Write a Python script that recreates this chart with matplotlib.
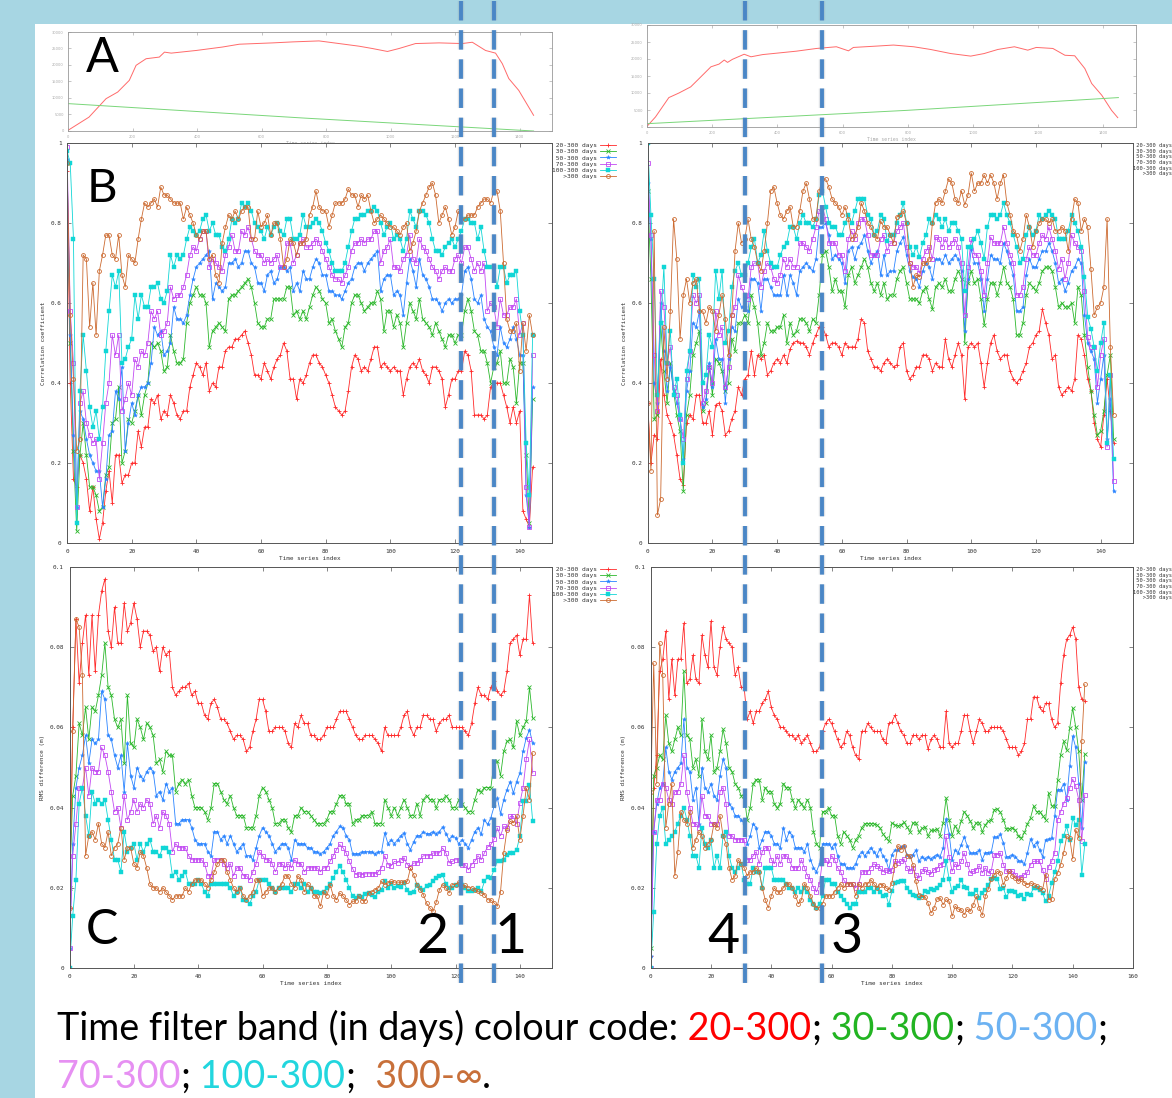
import numpy as np
import matplotlib
matplotlib.use("Agg")
import matplotlib.pyplot as plt
from matplotlib.lines import Line2D
from matplotlib.patches import Rectangle

# ---------------- data ----------------
series_labels = ["20-300 days", "30-300 days", "50-300 days", "70-300 days", "100-300 days", ">300 days"]

# Panel A (top, thin lines)
aL_x = [0,65,118,154,190,211,242,283,299,320,397,479,531,582,634,696,778,840,902,943,
        990,1026,1077,1150,1222,1253,1294,1325,1346,1366,1397,1443]
aL_red = [200,4200,9800,11800,15350,19900,21900,22400,23900,23600,24400,25450,26300,26500,26700,27000,27300,
          26500,25700,25000,24100,25000,26500,26700,26500,26900,24400,23600,20400,15900,12300,4750]
aL_gx = [0, 735, 1443]
aL_green = [8300, 3900, 0]
aR_x = [0,26,67,98,134,160,196,221,237,247,262,298,319,355,417,458,520,581,618,633,
        705,756,818,870,932,993,1034,1076,1127,1168,1194,1245,1282,1312,1343,1364,1395,1425,1444]
aR_red = [200,2950,8650,10000,11800,14260,17700,18500,19700,19000,19900,21400,20650,21300,21900,22300,23100,
          23600,22400,23400,23800,24100,23600,22800,21600,20850,21600,22800,23600,22600,23400,23100,21100,
          20950,17200,12800,9340,4900,2750]
aR_gx = [0, 798, 1446]
aR_green = [980, 4900, 8650]

# Panel B left: correlation coefficient
bL_20 = [.93,.40,.16,.14,.22,.20,.16,.08,.14,.06, .01,.05,.13,.18,.10,.22,.22,.15,.17,.17,
         .20,.20,.28,.24,.29,.29,.36,.35,.37,.31, .33,.32,.37,.35,.32,.31,.33,.33,.39,.42,
         .45,.44,.42,.45,.38,.40,.39,.44,.44,.48, .49,.49,.51,.51,.52,.53,.50,.47,.42,.42,
         .41,.45,.43,.41,.44,.46,.47,.50,.48,.41, .41,.36,.41,.40,.42,.45,.47,.47,.45,.44,
         .42,.40,.37,.34,.33,.32,.33,.38,.44,.47, .46,.43,.44,.43,.46,.49,.49,.44,.45,.44,
         .43,.44,.43,.43,.37,.41,.44,.45,.44,.46, .43,.42,.40,.44,.44,.43,.41,.34,.37,.41,
         .41,.43,.43,.48,.47,.43,.32,.32,.32,.31, .32,.39,.40,.40,.40,.37,.34,.30,.34,.30,
         .33,.08,.06,.04,.19]
bL_30 = [.95,.50,.23,.03,.22,.30,.22,.14,.14,.12, .08,.09,.17,.19,.30,.31,.39,.20,.23,.31,
         .30,.33,.37,.32,.37,.40,.50,.49,.50,.48, .43,.44,.52,.48,.45,.45,.46,.55,.60,.62,
         .64,.62,.62,.60,.49,.53,.54,.55,.54,.53, .61,.62,.62,.63,.64,.65,.66,.64,.60,.55,
         .54,.54,.56,.56,.61,.61,.61,.61,.64,.64, .57,.58,.56,.58,.56,.59,.62,.64,.63,.61,
         .60,.55,.56,.53,.51,.49,.54,.55,.60,.62, .62,.60,.58,.59,.60,.60,.63,.61,.53,.58,
         .58,.54,.57,.55,.49,.55,.60,.58,.56,.61, .56,.55,.54,.52,.55,.53,.51,.49,.52,.52,
         .50,.52,.52,.58,.61,.58,.53,.52,.48,.48, .45,.40,.44,.45,.48,.40,.40,.46,.44,.35,
         .45,.45,.22,.05,.36]
bL_50 = [.96,.52,.27,.09,.33,.31,.26,.22,.20,.18, .18,.09,.16,.27,.28,.38,.36,.44,.23,.30,
         .35,.32,.37,.39,.39,.40,.45,.54,.52,.53, .47,.48,.50,.59,.56,.56,.55,.57,.62,.66,
         .69,.70,.71,.72,.73,.61,.65,.64,.63,.64, .70,.70,.71,.69,.70,.73,.73,.70,.69,.65,
         .65,.63,.67,.68,.65,.66,.69,.69,.68,.69, .63,.65,.63,.68,.66,.66,.69,.71,.70,.67,
         .67,.63,.63,.62,.62,.61,.63,.65,.66,.69, .70,.70,.68,.70,.71,.72,.73,.63,.66,.67,
         .67,.62,.63,.62,.57,.65,.71,.68,.64,.71, .67,.66,.64,.61,.61,.60,.58,.60,.61,.60,
         .61,.61,.62,.68,.69,.66,.61,.60,.62,.56, .54,.53,.49,.47,.54,.50,.49,.51,.54,.51,
         .47,.47,.12,.04,.39]
bL_70 = [.99,.58,.45,.09,.35,.38,.30,.27,.25,.26, .16,.25,.35,.40,.52,.47,.52,.33,.36,.40,
         .37,.46,.44,.48,.47,.50,.58,.56,.58,.52, .53,.55,.64,.61,.62,.62,.64,.67,.72,.74,
         .73,.76,.78,.78,.69,.71,.70,.69,.68,.72, .74,.77,.73,.73,.78,.77,.79,.76,.73,.72,
         .72,.70,.71,.70,.71,.72,.69,.69,.75,.75, .70,.72,.75,.76,.74,.74,.75,.76,.75,.73,
         .71,.69,.67,.66,.66,.65,.67,.69,.73,.75, .75,.76,.75,.76,.76,.78,.78,.70,.73,.74,
         .76,.69,.69,.68,.71,.72,.77,.71,.70,.76, .74,.73,.71,.69,.68,.66,.68,.69,.68,.68,
         .71,.72,.70,.74,.74,.71,.68,.70,.68,.70, .58,.60,.59,.54,.61,.57,.57,.59,.59,.61,
         .52,.55,.14,.04,.47]
bL_100 = [.98,.95,.76,.05,.38,.52,.43,.34,.29,.33, .26,.34,.48,.58,.67,.64,.68,.45,.46,.49,
          .51,.62,.56,.62,.59,.59,.64,.64,.65,.61, .60,.63,.72,.69,.72,.71,.72,.76,.79,.78,
          .77,.78,.81,.82,.78,.80,.77,.77,.74,.73, .76,.81,.80,.81,.85,.84,.85,.83,.80,.79,
          .78,.76,.79,.77,.79,.80,.78,.77,.81,.81, .76,.76,.77,.82,.79,.79,.80,.81,.80,.78,
          .75,.73,.70,.68,.68,.68,.70,.74,.78,.81, .81,.82,.82,.83,.83,.84,.83,.80,.77,.79,
          .80,.76,.77,.76,.73,.76,.83,.81,.79,.83, .83,.82,.80,.76,.73,.73,.72,.74,.75,.76,
          .74,.76,.78,.81,.81,.80,.80,.76,.79,.73, .69,.69,.69,.64,.69,.69,.65,.67,.67,.68,
          .58,.52,.25,.12,.52]
bL_300 = [.95,.57,.41,.23,.26,.72,.71,.54,.65,.52, .68,.72,.77,.77,.72,.71,.77,.67,.64,.72,
          .71,.70,.76,.81,.85,.84,.85,.86,.84,.89, .87,.87,.86,.85,.85,.85,.81,.84,.82,.80,
          .77,.76,.78,.78,.71,.72,.67,.65,.75,.79, .82,.81,.83,.81,.83,.84,.84,.76,.76,.83,
          .79,.80,.82,.77,.80,.80,.76,.69,.71,.76, .75,.72,.75,.75,.76,.82,.84,.88,.84,.83,
          .83,.79,.82,.85,.85,.85,.86,.885,.87,.87, .84,.87,.86,.87,.83,.80,.81,.82,.81,.80,
          .79,.79,.78,.77,.79,.80,.73,.75,.78,.83, .85,.87,.89,.90,.87,.80,.82,.84,.81,.77,
          .79,.83,.81,.81,.82,.82,.82,.84,.85,.86, .86,.85,.88,.88,.83,.70,.56,.53,.53,.55,
          .43,.55,.48,.57,.52]

# Panel B right
bR_20 = [.35,.20,.27,.26,.46,.37,.32,.30,.27,.22, .16,.145,.30,.32,.31,.37,.37,.30,.30,.33,
         .27,.345,.35,.33,.27,.28,.31,.33,.39,.37, .41,.42,.48,.42,.47,.46,.47,.42,.43,.45,
         .46,.45,.47,.45,.485,.50,.505,.50,.50,.49, .47,.50,.52,.54,.54,.52,.49,.50,.50,.49,
         .47,.50,.49,.49,.49,.51,.56,.55,.48,.46, .44,.44,.43,.45,.46,.45,.44,.445,.49,.50,
         .43,.41,.42,.44,.44,.47,.47,.46,.43,.45, .44,.44,.51,.46,.44,.47,.50,.47,.36,.49,
         .50,.49,.50,.45,.39,.45,.50,.52,.48,.46, .47,.47,.43,.41,.40,.41,.43,.45,.49,.50,
         .52,.53,.585,.55,.52,.46,.47,.39,.37,.38, .39,.38,.41,.52,.51,.47,.41,.38,.30,.26,
         .24,.32,.41,.33,.25]
bR_30 = [.88,.66,.31,.32,.55,.43,.35,.45,.38,.32, .28,.13,.32,.37,.47,.50,.53,.33,.35,.44,
         .37,.46,.45,.43,.38,.40,.51,.48,.55,.55, .57,.55,.62,.59,.55,.47,.50,.55,.53,.53,
         .54,.54,.57,.50,.55,.52,.53,.56,.56,.55, .53,.56,.55,.62,.72,.73,.69,.63,.66,.63,
         .63,.59,.67,.69,.65,.67,.69,.71,.69,.65, .63,.65,.62,.65,.61,.62,.62,.66,.68,.69,
         .65,.61,.61,.61,.60,.63,.64,.61,.585,.64, .65,.64,.66,.63,.63,.66,.68,.66,.50,.65,
         .68,.65,.66,.61,.545,.61,.65,.65,.62,.65, .69,.65,.64,.61,.52,.52,.55,.62,.65,.64,
         .63,.65,.68,.69,.69,.68,.64,.59,.60,.59, .59,.60,.55,.64,.62,.52,.44,.38,.32,.27,
         .28,.33,.42,.47,.26]
bR_50 = [.90,.76,.40,.35,.60,.48,.38,.44,.38,.35, .31,.21,.38,.43,.55,.54,.58,.34,.36,.45,
         .39,.51,.46,.46,.35,.46,.54,.53,.61,.59, .59,.58,.66,.66,.65,.58,.66,.66,.64,.62,
         .62,.62,.67,.62,.67,.65,.62,.68,.69,.70, .69,.68,.71,.79,.79,.80,.77,.71,.72,.71,
         .70,.65,.73,.74,.71,.74,.75,.77,.73,.70, .72,.73,.67,.72,.67,.68,.68,.73,.75,.765,
         .72,.68,.665,.66,.64,.68,.70,.69,.66,.71, .71,.70,.72,.70,.71,.72,.71,.68,.53,.66,
         .735,.70,.70,.66,.58,.66,.72,.71,.71,.70, .75,.73,.70,.67,.58,.58,.59,.67,.71,.69,
         .69,.71,.73,.73,.75,.73,.70,.65,.66,.63, .65,.68,.69,.71,.70,.57,.50,.48,.46,.35,
         .41,.47,.26,.36,.13]
bR_70 = [.95,.77,.47,.33,.63,.59,.45,.49,.39,.37, .31,.26,.41,.48,.62,.60,.62,.35,.38,.44,
         .40,.58,.52,.54,.39,.44,.57,.59,.67,.64, .62,.61,.69,.70,.70,.64,.68,.70,.69,.66,
         .65,.67,.71,.69,.71,.69,.69,.75,.75,.74, .73,.76,.79,.83,.84,.81,.75,.75,.75,.72,
         .72,.68,.76,.78,.76,.80,.81,.81,.77,.72, .72,.72,.76,.77,.73,.75,.75,.78,.79,.80,
         .74,.70,.69,.69,.675,.71,.73,.74,.71,.765, .76,.74,.76,.74,.75,.76,.74,.70,.57,.69,
         .76,.72,.72,.68,.62,.70,.765,.75,.75,.75, .79,.75,.72,.70,.62,.62,.64,.71,.74,.72,
         .72,.75,.77,.76,.79,.76,.73,.685,.71,.66, .70,.77,.75,.74,.73,.63,.515,.49,.49,.39,
         .47,.51,.24,.42,.155]
bR_100 = [1.0,.82,.66,.37,.55,.69,.45,.53,.37,.41, .32,.20,.43,.48,.67,.64,.66,.40,.42,.52,
          .49,.68,.61,.68,.50,.53,.64,.68,.70,.67, .67,.70,.74,.76,.70,.72,.78,.73,.70,.69,
          .69,.72,.74,.75,.79,.79,.76,.80,.82,.80, .80,.79,.81,.87,.88,.84,.80,.79,.79,.77,
          .77,.80,.82,.80,.83,.86,.86,.86,.82,.81, .77,.78,.82,.81,.755,.77,.77,.80,.82,.85,
          .80,.74,.72,.74,.715,.75,.77,.81,.80,.82, .81,.79,.81,.78,.80,.80,.78,.76,.63,.74,
          .74,.76,.78,.75,.71,.79,.82,.82,.81,.82, .85,.82,.80,.77,.74,.70,.71,.77,.79,.77,
          .78,.82,.81,.82,.83,.82,.81,.76,.76,.76, .78,.82,.80,.78,.74,.665,.565,.535,.49,.43,
          .50,.55,.25,.42,.21]
bR_300 = [.35,.18,.78,.07,.11,.54,.41,.58,.81,.71, .51,.62,.66,.60,.65,.66,.58,.58,.55,.59,
          .58,.53,.57,.62,.56,.47,.57,.73,.80,.75, .76,.81,.76,.74,.70,.68,.73,.80,.88,.89,
          .85,.82,.81,.83,.84,.79,.79,.83,.88,.90, .86,.81,.81,.88,.91,.91,.89,.86,.85,.84,
          .82,.84,.81,.76,.77,.79,.85,.83,.80,.79, .77,.76,.805,.79,.79,.77,.75,.815,.82,.83,
          .80,.70,.64,.67,.665,.70,.70,.71,.80,.85, .86,.85,.88,.91,.90,.86,.85,.88,.845,.87,
          .925,.88,.90,.90,.92,.90,.92,.90,.86,.90, .92,.85,.82,.78,.77,.73,.76,.82,.79,.74,
          .78,.80,.81,.81,.80,.81,.78,.78,.79,.78, .73,.81,.86,.85,.78,.81,.79,.685,.57,.59,
          .60,.64,.81,.49,.32]

# Panel C left: RMS difference (m)
cL_20 = [.015,.060,.087,.071,.081,.088,.073,.088,.074,.088, .094,.097,.084,.080,.090,.081,.081,.091,.084,.086,
         .091,.087,.080,.084,.084,.083,.079,.080,.074,.080, .078,.079,.070,.068,.069,.070,.070,.071,.068,.069,
         .066,.066,.063,.062,.066,.067,.065,.062,.062,.061, .059,.057,.058,.058,.057,.054,.055,.059,.062,.067,
         .067,.064,.059,.059,.060,.060,.060,.059,.056,.055, .061,.060,.063,.061,.061,.058,.058,.057,.057,.058,
         .060,.060,.060,.062,.064,.064,.064,.062,.060,.058, .057,.057,.058,.058,.058,.057,.056,.054,.060,.058,
         .058,.058,.058,.060,.063,.064,.060,.058,.060,.060, .063,.063,.062,.062,.059,.061,.062,.062,.063,.060,
         .060,.060,.060,.059,.058,.061,.066,.070,.068,.068, .067,.070,.0715,.069,.068,.069,.074,.081,.082,.083,
         .078,.082,.082,.093,.081]
cL_30 = [.020,.043,.048,.061,.058,.065,.057,.065,.064,.068, .073,.081,.070,.068,.062,.060,.062,.051,.068,.056,
         .055,.062,.060,.057,.061,.060,.058,.051,.052,.049, .054,.053,.053,.044,.046,.047,.046,.047,.043,.040,
         .040,.040,.039,.037,.040,.046,.046,.044,.042,.041, .043,.040,.038,.038,.038,.035,.035,.035,.038,.043,
         .045,.044,.042,.040,.036,.036,.037,.037,.035,.034, .038,.038,.040,.039,.039,.038,.037,.036,.036,.036,
         .037,.039,.039,.041,.043,.043,.041,.041,.036,.037, .037,.038,.038,.038,.039,.036,.036,.036,.042,.040,
         .038,.040,.038,.040,.042,.040,.038,.038,.041,.038, .042,.043,.042,.042,.040,.042,.042,.043,.042,.040,
         .040,.042,.041,.040,.039,.039,.042,.0445,.044,.045, .045,.045,.0515,.0515,.048,.054,.0565,.057,.055,.0615,
         .058,.060,.0615,.070,.0623]
cL_50 = [.005,.031,.045,.050,.053,.058,.051,.057,.056,.057, .069,.067,.058,.057,.053,.050,.053,.044,.056,.048,
         .045,.050,.048,.047,.049,.050,.049,.043,.044,.042, .046,.044,.045,.036,.036,.037,.037,.037,.035,.032,
         .031,.031,.031,.029,.028,.034,.034,.032,.033,.031, .033,.031,.029,.030,.031,.028,.028,.027,.030,.033,
         .035,.034,.033,.031,.029,.030,.031,.031,.030,.027, .032,.031,.031,.031,.030,.030,.029,.029,.0285,.029,
         .030,.031,.033,.034,.0353,.035,.033,.032,.0285,.0285, .0285,.029,.029,.029,.029,.0285,.029,.029,.0337,.031,
         .032,.031,.032,.033,.0337,.031,.0295,.0315,.033,.033, .034,.0335,.0335,.034,.0335,.034,.0352,.0335,.032,.033,
         .0325,.031,.032,.031,.030,.032,.034,.035,.0333,.037, .0358,.0375,.0403,.0424,.0385,.042,.0445,.0465,.0436,.0465,
         .0486,.054,.0574,.0594,.056]
cL_70 = [.005,.028,.036,.045,.045,.050,.043,.050,.049,.049, .055,.053,.049,.044,.039,.040,.035,.043,.037,.039,
         .042,.039,.041,.040,.042,.041,.036,.038,.035,.039, .038,.036,.029,.031,.030,.030,.030,.028,.027,.027,
         .027,.027,.026,.023,.023,.027,.027,.027,.026,.025, .026,.023,.025,.025,.023,.023,.022,.024,.026,.029,
         .028,.027,.027,.026,.024,.026,.026,.025,.026,.025, .027,.026,.026,.024,.025,.025,.025,.025,.024,.025,
         .025,.0266,.028,.0295,.0308,.030,.0287,.0266,.0248,.0233, .0235,.0233,.0235,.0235,.0235,.0235,.024,.025,.028,.0258,
         .0255,.0266,.0263,.027,.0275,.0258,.0253,.0262,.0262,.027, .028,.028,.028,.0287,.0287,.0287,.0299,.0287,.0262,.0266,
         .027,.027,.0258,.0258,.0245,.0258,.0266,.028,.027,.0287, .0302,.0308,.0322,.0349,.033,.0353,.0349,.0378,.0378,.036,
         .0411,.045,.052,.057,.0486]
cL_100 = [.000,.013,.022,.041,.045,.038,.033,.044,.041,.042, .041,.042,.037,.032,.027,.027,.024,.034,.029,.030,
          .031,.027,.031,.029,.031,.032,.029,.029,.028,.030, .030,.029,.023,.024,.022,.023,.024,.021,.021,.021,
          .022,.021,.019,.018,.021,.021,.021,.021,.021,.021, .020,.018,.019,.020,.017,.017,.016,.018,.019,.022,
          .022,.022,.021,.020,.019,.020,.020,.020,.020,.019, .021,.021,.020,.021,.019,.020,.019,.019,.0187,.019,
          .020,.021,.0224,.024,.0254,.024,.022,.020,.0179,.0175, .018,.0177,.0185,.0187,.0183,.0177,.019,.0195,.0217,.020,
          .021,.020,.0205,.0203,.0212,.0195,.0187,.019,.0208,.020, .0195,.0205,.0208,.0216,.0224,.023,.0233,.021,.020,.020,
          .0208,.0208,.0208,.020,.0191,.0191,.0195,.020,.0191,.0216, .0227,.0225,.0245,.0266,.0266,.027,.0283,.0287,.0287,.0295,
          .0328,.0416,.0416,.0457,.0366]
cL_300 = [.015,.059,.087,.085,.073,.028,.033,.034,.032,.036, .031,.030,.034,.028,.030,.031,.035,.027,.030,.030,
          .026,.025,.029,.028,.025,.021,.020,.020,.019,.020, .019,.018,.017,.018,.018,.018,.020,.019,.021,.022,
          .022,.022,.021,.020,.022,.024,.026,.027,.027,.024, .022,.020,.019,.020,.018,.017,.018,.019,.022,.022,
          .018,.019,.020,.020,.019,.020,.021,.023,.023,.021, .020,.023,.022,.019,.021,.020,.018,.018,.0154,.019,
          .018,.0208,.018,.017,.0187,.018,.017,.0158,.0166,.0168, .0179,.0168,.0168,.0187,.019,.0195,.020,.0216,.0208,.0212,
          .0216,.0214,.0214,.0214,.0214,.0216,.0249,.0233,.0208,.0195, .0183,.0162,.015,.0141,.0164,.0195,.0208,.020,.0187,.0208,
          .0208,.0214,.0204,.0206,.020,.020,.0195,.0191,.0187,.0183, .017,.017,.0162,.0154,.019,.0287,.0345,.0366,.0362,.0378,
          .032,.038,.0449,.042,.0536]

# Panel C right
cR_20 = [.003,.045,.053,.074,.077,.084,.067,.077,.068,.077, .077,.086,.071,.072,.078,.072,.071,.083,.078,.075,
         .0865,.075,.073,.080,.085,.082,.081,.080,.073,.075, .070,.070,.062,.064,.061,.064,.064,.066,.067,.069,
         .065,.063,.062,.060,.060,.059,.058,.058,.057,.058, .056,.057,.058,.056,.054,.054,.055,.059,.061,.062,
         .061,.059,.057,.055,.056,.059,.058,.055,.053,.052, .059,.059,.061,.060,.059,.059,.059,.057,.056,.061,
         .0613,.063,.061,.059,.058,.056,.056,.058,.058,.057, .058,.058,.0546,.057,.058,.057,.055,.055,.064,.056,
         .055,.056,.056,.059,.063,.063,.059,.056,.059,.062, .061,.059,.059,.060,.060,.060,.060,.059,.057,.055,
         .055,.055,.053,.054,.056,.062,.062,.0676,.0675,.065, .064,.066,.066,.062,.060,.061,.071,.078,.082,.083,
         .085,.082,.070,.067,.0665]
cR_30 = [.005,.048,.050,.053,.052,.063,.056,.054,.057,.060, .058,.074,.058,.057,.050,.052,.048,.062,.054,.052,
         .058,.049,.050,.054,.0595,.056,.050,.049,.046,.045, .043,.043,.037,.040,.046,.047,.047,.042,.045,.044,
         .044,.041,.040,.041,.046,.045,.045,.042,.040,.042, .041,.040,.042,.040,.034,.031,.030,.039,.039,.040,
         .038,.038,.033,.031,.034,.033,.032,.030,.032,.033, .035,.036,.036,.036,.036,.0357,.035,.0335,.0325,.0316,
         .0362,.0357,.0355,.0357,.0363,.0352,.034,.0362,.0362,.034, .0348,.0352,.033,.0343,.0343,.0347,.033,.0362,.0424,.037,
         .033,.0355,.0340,.0366,.039,.038,.0366,.035,.0362,.0362, .034,.0357,.0366,.037,.0395,.0397,.0388,.037,.0347,.0347,
         .035,.0344,.033,.0324,.0338,.036,.0374,.0403,.039,.039, .038,.037,.0436,.0405,.0403,.0468,.0532,.0565,.0543,.0598,
         .0648,.060,.054,.042,.0534]
cR_50 = [.003,.034,.041,.045,.046,.055,.049,.047,.049,.050, .051,.062,.050,.049,.042,.045,.036,.050,.045,.044,
         .046,.043,.042,.048,.052,.050,.041,.040,.038,.038, .037,.036,.031,.033,.036,.035,.030,.032,.034,.034,
         .033,.031,.031,.030,.035,.032,.034,.033,.030,.030, .030,.029,.031,.027,.025,.024,.026,.031,.031,.031,
         .030,.031,.028,.026,.026,.025,.025,.025,.026,.028, .029,.028,.029,.030,.029,.028,.0297,.028,.027,.0245,
         .0283,.0294,.0294,.0302,.0305,.0283,.0278,.0283,.0294,.0266, .0278,.0272,.0278,.0272,.0278,.0283,.0278,.030,.0372,.0335,
         .027,.0294,.0288,.0307,.0327,.0305,.0287,.0287,.0288,.0294, .027,.0288,.0288,.029,.0327,.0327,.0333,.0312,.0277,.0278,
         .0283,.0278,.0268,.0266,.026,.0287,.0322,.0305,.0313,.0295, .0278,.032,.0322,.0324,.0378,.0445,.0445,.046,.042,.0503,
         .0578,.055,.046,.035,.0513]
cR_70 = [.000,.034,.042,.042,.046,.045,.042,.041,.044,.044, .046,.053,.044,.040,.036,.036,.035,.043,.038,.038,
         .036,.036,.036,.044,.045,.041,.033,.033,.032,.032, .032,.032,.027,.027,.028,.029,.026,.029,.030,.030,
         .027,.026,.028,.026,.028,.028,.027,.025,.025,.025, .027,.025,.023,.022,.020,.019,.021,.027,.027,.026,
         .028,.027,.025,.024,.022,.021,.021,.021,.020,.021, .024,.024,.024,.025,.026,.0255,.025,.024,.0245,.0241,
         .0245,.0266,.0263,.0266,.0272,.025,.0241,.0249,.0233,.0224, .0241,.0247,.0239,.0235,.0245,.0247,.0258,.026,.0328,.0278,
         .0241,.026,.0253,.0266,.0287,.026,.0237,.0241,.0245,.0255, .0237,.025,.0237,.0243,.0283,.0283,.0287,.0258,.0241,.0241,
         .0241,.0233,.0224,.0228,.0233,.0239,.0258,.0266,.0266,.0266, .0245,.0222,.0253,.0266,.0287,.037,.039,.041,.0424,.0449,
         .0471,.0453,.042,.0316,.0432]
cR_100 = [.000,.014,.031,.038,.040,.031,.032,.033,.034,.036, .038,.040,.037,.033,.028,.028,.025,.035,.031,.030,
          .032,.025,.028,.025,.033,.034,.028,.025,.024,.025, .026,.022,.021,.021,.025,.024,.024,.020,.025,.025,
          .025,.022,.022,.022,.022,.021,.020,.020,.019,.020, .019,.020,.019,.017,.016,.015,.016,.018,.022,.022,
          .021,.021,.019,.018,.017,.016,.015,.016,.016,.019, .019,.019,.020,.020,.019,.020,.019,.018,.0183,.0158,
          .0191,.0212,.0214,.0218,.0216,.020,.0189,.0183,.0179,.0175, .0179,.0191,.0189,.0197,.0195,.0199,.0208,.022,.0266,.0222,
          .0189,.020,.0204,.022,.0202,.020,.0185,.0185,.0195,.0175, .0187,.0195,.0208,.0222,.0224,.0222,.0197,.020,.0176,.0191,
          .0191,.0189,.0179,.0181,.0171,.0185,.0183,.020,.020,.0195, .0187,.0166,.018,.0212,.024,.0266,.0316,.033,.0353,.032,
          .0374,.0357,.037,.0233,.0308]
cR_300 = [.044,.076,.046,.081,.073,.035,.041,.046,.023,.029, .039,.037,.036,.039,.030,.032,.034,.033,.030,.031,
          .032,.036,.035,.038,.033,.031,.025,.022,.023,.027, .026,.025,.023,.024,.024,.025,.024,.020,.017,.015,
          .018,.020,.019,.019,.020,.021,.021,.020,.018,.016, .017,.021,.020,.018,.016,.015,.015,.016,.018,.018,
          .018,.019,.020,.021,.020,.021,.021,.021,.018,.021, .020,.021,.021,.022,.021,.020,.0208,.0208,.020,.0195,
          .0212,.0258,.0305,.0295,.0305,.028,.028,.0258,.0216,.0183, .0178,.0178,.0162,.0137,.015,.0172,.0175,.0158,.0171,.0166,
          .0129,.0154,.0147,.0145,.0133,.0147,.0141,.0158,.0179,.0149, .0131,.0179,.0197,.0222,.0233,.0241,.0237,.0208,.0224,.0241,
          .0229,.0224,.0216,.0222,.0212,.0208,.0212,.0208,.0204,.0199, .0195,.0233,.0170,.0172,.0221,.0237,.0258,.0287,.0328,.0324,
          .0272,.0345,.0324,.0565,.0707]

panelB_left = [bL_20, bL_30, bL_50, bL_70, bL_100, bL_300]
panelB_right = [bR_20, bR_30, bR_50, bR_70, bR_100, bR_300]
panelC_left = [cL_20, cL_30, cL_50, cL_70, cL_100, cL_300]
panelC_right = [cR_20, cR_30, cR_50, cR_70, cR_100, cR_300]
for grp in (panelB_left, panelB_right, panelC_left, panelC_right):
    for s in grp:
        assert len(s) == 145, len(s)

band_words = ["20-300", "30-300", "50-300", "70-300", "100-300", "300-\u221e"]

# ---------------- style ----------------
W, H = 1172, 1098
BG = "#a7d6e3"
STY = [
    dict(color="#ff2a2a", marker="+", ms=3.4, mew=0.6),
    dict(color="#2cb82c", marker="x", ms=2.6, mew=0.6),
    dict(color="#2a84ff", marker="*", ms=3.0, mew=0.3),
    dict(color="#c24af2", marker="s", ms=2.8, mfc="none", mew=0.6),
    dict(color="#10d6d6", marker="s", ms=2.6, mew=0.3),
    dict(color="#cc6a30", marker="o", ms=2.8, mfc="none", mew=0.6),
]
WORD_COL = ["#ff0000", "#22b422", "#6cb2f2", "#e690f2", "#22d6de", "#c8703a"]
SMALL = dict(family="DejaVu Sans Mono", size=4.3, color="#333333")

fig = plt.figure(figsize=(W / 100, H / 100), dpi=100, facecolor="white")
fig.patches.append(Rectangle((0, 0), 35 / W, 1, transform=fig.transFigure,
                             facecolor=BG, edgecolor="none", zorder=-10))
fig.patches.append(Rectangle((0, 1 - 24 / H), 1, 24 / H, transform=fig.transFigure,
                             facecolor=BG, edgecolor="none", zorder=-10))


def rect(x0, y0, x1, y1):
    return [x0 / W, 1 - y1 / H, (x1 - x0) / W, (y1 - y0) / H]


def style_axes(ax, labelsize=4.3):
    for sp in ax.spines.values():
        sp.set_color("#555555")
        sp.set_linewidth(0.7)
    ax.tick_params(direction="in", length=3, width=0.5, top=True, right=True,
                   labelsize=labelsize, pad=4, colors="#555555", labelcolor="#333333")
    for lab in ax.get_xticklabels() + ax.get_yticklabels():
        lab.set_family("DejaVu Sans Mono")


idx = np.arange(145)
# right-aligned legend labels (gnuplot style) using a monospaced font
width = max(len(s) for s in series_labels)
legend_labels = [s.rjust(width) for s in series_labels]


def data_panel(r, data, xmax, ylim, yticks, ylabels, ylabel, xticks, legsize):
    ax = fig.add_axes(rect(*r))
    for vals, st, lab in zip(data, STY, legend_labels):
        ax.plot(idx, vals, lw=0.6, label=lab, **st)
    ax.set_xlim(0, xmax)
    ax.set_ylim(*ylim)
    ax.set_xticks(xticks)
    ax.set_xticklabels([str(t) for t in xticks])
    ax.set_yticks(yticks)
    ax.set_yticklabels(ylabels)
    style_axes(ax)
    ax.set_xlabel("Time series index", fontdict=SMALL, labelpad=2)
    ax.set_ylabel(ylabel, fontdict=SMALL, labelpad=3)
    leg = ax.legend(loc="upper left", bbox_to_anchor=(1.0, 1.0), frameon=False,
                    markerfirst=False, handlelength=2.6, handletextpad=0.4,
                    labelspacing=0.12, borderaxespad=0, borderpad=0,
                    prop=dict(family="DejaVu Sans Mono", size=legsize))
    for t in leg.get_texts():
        t.set_color("#333333")
    return ax


def overview_panel(r, x, red, gx, green):
    ax = fig.add_axes(rect(*r))
    ax.plot(x, red, color="#ff6a6a", lw=0.7)
    ax.plot(gx, green, color="#7ad67a", lw=0.7)
    ax.set_xlim(0, 1500)
    ax.set_ylim(0, 30000)
    ax.set_xticks(range(0, 1500, 200))
    ax.set_yticks(range(0, 30001, 5000))
    for sp in ax.spines.values():
        sp.set_color("#999999")
        sp.set_linewidth(0.6)
    ax.tick_params(direction="in", length=2, width=0.4, top=True, right=True,
                   labelsize=2.6, pad=3, colors="#999999", labelcolor="#aaaaaa")
    ax.set_xlabel("Time series index", fontdict=dict(family="DejaVu Sans Mono", size=3.4, color="#aaaaaa"),
                  labelpad=1)
    return ax


overview_panel((68, 32, 552, 131), aL_x, aL_red, aL_gx, aL_green)
overview_panel((647, 25, 1136, 127), aR_x, aR_red, aR_gx, aR_green)

B_TICKS = [0, 0.2, 0.4, 0.6, 0.8, 1.0]
B_LABS = ["0", "0.2", "0.4", "0.6", "0.8", "1"]
C_TICKS = [0, 0.02, 0.04, 0.06, 0.08, 0.1]
C_LABS = ["0", "0.02", "0.04", "0.06", "0.08", "0.1"]

data_panel((67, 143, 552, 543), panelB_left, 150, (0, 1), B_TICKS, B_LABS,
           "Correlation coefficient", list(range(0, 141, 20)), 4.5)
data_panel((647.7, 143, 1133, 543), panelB_right, 150, (0, 1), B_TICKS, B_LABS,
           "Correlation coefficient", list(range(0, 141, 20)), 3.9)
data_panel((69.5, 567, 552, 968), panelC_left, 150, (0, 0.1), C_TICKS, C_LABS,
           "RMS difference (m)", list(range(0, 141, 20)), 4.5)
data_panel((650.7, 567, 1133, 968), panelC_right, 160, (0, 0.1), C_TICKS, C_LABS,
           "RMS difference (m)", list(range(0, 161, 20)), 3.9)

# dashed marker lines across panels (soft shadow + blue dashes, same absolute dash pattern)
DASH_ON, DASH_OFF = 14.0, 7.0   # points
for xp in (461, 494, 745, 822):
    xs = [xp / W, xp / W]
    ys = [1 - 1 / H, 1 - 986 / H]
    lw_s = 4.6
    fig.add_artist(Line2D(xs, ys, transform=fig.transFigure, color="#8c9aa8", alpha=0.28, lw=lw_s,
                          linestyle=(0, (DASH_ON / lw_s, DASH_OFF / lw_s)), zorder=5))
    lw_m = 2.8
    fig.add_artist(Line2D(xs, ys, transform=fig.transFigure, color="#4a86c6", lw=lw_m,
                          linestyle=(0, (DASH_ON / lw_m, DASH_OFF / lw_m)), zorder=6))

BIG = ["Lato", "DejaVu Sans"]
for txt, xc, yb, fs in [("A", 102.5, 71.5, 35), ("B", 102, 201.5, 34), ("C", 101.5, 944, 35),
                        ("2", 432, 953, 40), ("1", 511, 953, 40), ("4", 724, 953, 40), ("3", 847, 953, 40)]:
    fig.text(xc / W, 1 - yb / H, txt, ha="center", va="baseline", fontsize=fs,
             family=BIG, color="black", zorder=7)

# caption with coloured band names
renderer = fig.canvas.get_renderer()


def coloured_line(pieces, x0, yb, fs):
    x = x0
    for txt, col in pieces:
        t = fig.text(x / W, 1 - yb / H, txt, color=col, fontsize=fs, family=BIG,
                     ha="left", va="baseline", zorder=7)
        x += t.get_window_extent(renderer).width


line1 = [("Time filter band (in days) colour code:", "black"),
         (" " + band_words[0], WORD_COL[0]), (";", "black"),
         (" " + band_words[1], WORD_COL[1]), (";", "black"),
         (" " + band_words[2], WORD_COL[2]), (";", "black")]
line2 = [(band_words[3], WORD_COL[3]), (";", "black"),
         (" " + band_words[4], WORD_COL[4]), (";", "black"),
         ("  " + band_words[5], WORD_COL[5]), (".", "black")]
coloured_line(line1, 57, 1040, 27.2)
coloured_line(line2, 57, 1088, 27.2)

fig.savefig("out.png", dpi=100, facecolor="white")
